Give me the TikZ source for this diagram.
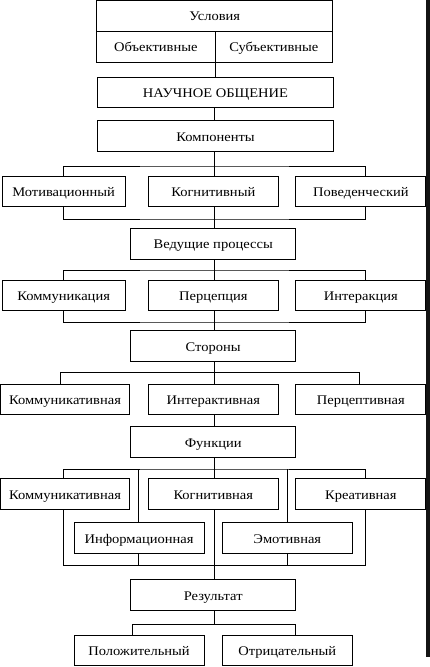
\documentclass[tikz,border=0pt]{standalone}
\usepackage{fontspec}
\setmainfont{Liberation Serif}[FakeStretch=1.1]
\begin{document}
\begin{tikzpicture}[x=1pt,y=-1pt,
  box/.style={draw, line width=0.8pt, inner sep=0pt, minimum height=30.7pt, text height=12.6pt, text depth=2pt, font=\fontsize{13.2}{15}\selectfont},
  wa/.style={box, minimum width=236pt},
  wb/.style={box, minimum width=165pt},
  wc/.style={box, minimum width=130pt},
  wm/.style={box, minimum width=122.7pt},
  wk/.style={box, minimum width=128.6pt},
  link/.style={line width=0.8pt}]
\useasboundingbox (0,0) rectangle (430,667);
\fill[black!92] (426,0) rectangle (430,657);
% conditions
\node[wa, minimum height=31pt] (usl) at (214.7,15.5) {Условия};
\node[box, minimum width=118.3pt, minimum height=31.3pt] (obj) at (155.85,46.65) {Объективные};
\node[box, minimum width=117.7pt, minimum height=31.3pt] (sub) at (273.85,46.65) {Субъективные};
\node[wa] (nauch) at (215.5,92.35) {НАУЧНОЕ ОБЩЕНИЕ};
\node[wa] (komp) at (215.5,135.85) {Компоненты};
% components
\node[wm] (mot) at (63.65,191.35) {Мотивационный};
\node[wc] (kog) at (213.3,191.35) {Когнитивный};
\node[wc] (pov) at (360.85,191.35) {Поведенческий};
\node[wb] (ved) at (213.2,243.65) {Ведущие процессы};
% processes
\node[wm] (kmc) at (63.65,295.5) {Коммуникация};
\node[wc] (per) at (213.3,295.5) {Перцепция};
\node[wc] (int) at (360.85,295.5) {Интеракция};
\node[wb] (str) at (213.2,345.85) {Стороны};
% sides
\node[wk] (kmv) at (65,399.5) {Коммуникативная};
\node[wc] (itv) at (213.3,399.5) {Интерактивная};
\node[wc] (prv) at (360.85,399.5) {Перцептивная};
\node[wb] (fun) at (213.2,442.2) {Функции};
% functions
\node[wk] (fkm) at (65,493.8) {Коммуникативная};
\node[wc] (fkg) at (213.3,493.8) {Когнитивная};
\node[wc] (fkr) at (360.85,493.8) {Креативная};
\node[wc] (inf) at (139,538) {Информационная};
\node[wc] (emo) at (287.3,538) {Эмотивная};
\node[wb] (rez) at (213.2,595) {Результат};
\node[wc] (pol) at (139,650.35) {Положительный};
\node[wc] (otr) at (287.3,650.35) {Отрицательный};
% bus coordinates
\coordinate (b1) at (214.5,166);
\coordinate (b2) at (214.5,219);
\coordinate (b3) at (214.5,270);
\coordinate (b4) at (214.5,322);
\coordinate (b5) at (214.5,372.3);
\coordinate (b6) at (214.5,469);
\coordinate (b7) at (214.5,565.7);
\coordinate (b8) at (214.5,624.3);
% connectors
\draw[link] (obj.south east) -- (nauch.north -| obj.south east);
\draw[link] (nauch.south -| b1) -- (komp.north -| b1);
\draw[link] (komp.south -| b1) -- (kog.north -| b1);
\draw[link] ([xshift=-0.35pt]mot.north) |- (b1) -| ([xshift=4.85pt]pov.north);
\draw[link] ([xshift=-0.35pt]mot.south) |- (b2) -| ([xshift=4.85pt]pov.south);
\draw[link] (kog.south -| b2) -- (ved.north -| b2);
\draw[link] (ved.south -| b3) -- (per.north -| b3);
\draw[link] ([xshift=-0.35pt]kmc.north) |- (b3) -| ([xshift=4.85pt]int.north);
\draw[link] ([xshift=-0.35pt]kmc.south) |- (b4) -| ([xshift=4.85pt]int.south);
\draw[link] (per.south -| b4) -- (str.north -| b4);
\draw[link] (str.south -| b5) -- (itv.north -| b5);
\draw[link] ([xshift=-5pt]kmv.north) |- (b5) -| ([xshift=-1.55pt]prv.north);
\draw[link] (itv.south -| b5) -- (fun.north -| b5);
\draw[link] (fun.south -| b6) -- (fkg.north -| b6);
\draw[link] ([xshift=-1.7pt]fkm.north) |- (b6) -| ([xshift=4.85pt]fkr.north);
\draw[link] ([xshift=-0.7pt]inf.north) -- ([xshift=-0.7pt]inf.north |- b6);
\draw[link] (emo.north) -- (emo.north |- b6);
\draw[link] ([xshift=-1.7pt]fkm.south) |- (b7) -| ([xshift=4.15pt]fkr.south);
\draw[link] ([xshift=-0.7pt]inf.south) -- ([xshift=-0.7pt]inf.south |- b7);
\draw[link] (emo.south) -- (emo.south |- b7);
\draw[link] (fkg.south -| b7) -- (rez.north -| b7);
\draw[link] (rez.south -| b8) -- (b8);
\draw[link] ([xshift=-6.3pt]pol.north) |- (b8) -| ([xshift=8.4pt]otr.north);
\end{tikzpicture}
\end{document}
